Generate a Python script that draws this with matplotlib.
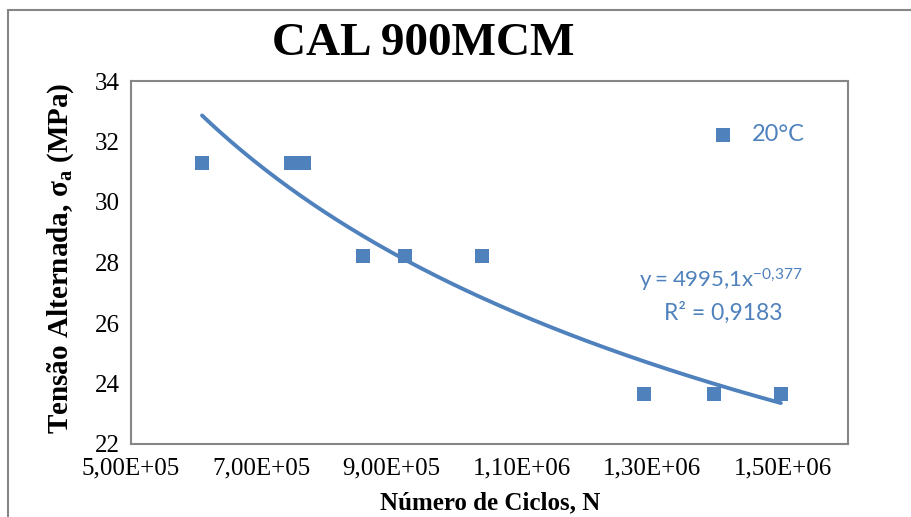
import matplotlib
matplotlib.use('Agg')
import matplotlib.pyplot as plt
from matplotlib.patches import Rectangle
from matplotlib.ticker import FuncFormatter
import numpy as np

# data
ciclos = [6.09e5, 7.45e5, 7.65e5, 8.56e5, 9.20e5, 1.038e6, 1.287e6, 1.394e6, 1.497e6]
tensao = [31.3, 31.3, 31.3, 28.2, 28.2, 28.2, 23.65, 23.65, 23.65]
serie = '20°C'
titulo = 'CAL 900MCM'
eq_texto = r'$\mathregular{y = 4995{,}1x^{-0{,}377}}$'
r2_texto = 'R² = 0,9183'
x_ticks = [5e5, 7e5, 9e5, 1.1e6, 1.3e6, 1.5e6]
y_ticks = [22, 24, 26, 28, 30, 32, 34]

azul = '#4F81BD'
cinza = '#868686'
serif = 'Liberation Serif'

fig = plt.figure(figsize=(9.12, 5.17), dpi=100)
ax = fig.add_axes([131 / 912, 1 - 444 / 517, 717 / 912, 363 / 517])

# power trendline fitted on the data (log-log least squares)
b, log_a = np.polyfit(np.log(ciclos), np.log(tensao), 1)
xs = np.linspace(min(ciclos), max(ciclos), 200)
ax.plot(xs, np.exp(log_a) * xs ** b, color=azul, lw=2.8, solid_capstyle='round', zorder=2)

pts = ax.scatter(ciclos, tensao, marker='s', s=105, color=azul, linewidths=0, zorder=3)

ax.set_xlim(5e5, 1.6e6)
ax.set_ylim(22, 34)
ax.set_xticks(x_ticks)
ax.set_yticks(y_ticks)

def fmt_sci(v, pos):
    s = '%.2E' % v
    return s.replace('.', ',')

ax.xaxis.set_major_formatter(FuncFormatter(fmt_sci))
ax.tick_params(length=0, pad=10)
for lab in ax.get_xticklabels():
    lab.set_fontfamily(serif)
    lab.set_fontsize(18)
for lab in ax.get_yticklabels():
    lab.set_fontfamily(serif)
    lab.set_fontsize(18)
ax.tick_params(axis='y', pad=8)

for sp in ax.spines.values():
    sp.set_color(cinza)
    sp.set_linewidth(1.5)

fig.text(0.464, 1 - 44 / 517, titulo, ha='center', va='center',
         fontfamily=serif, fontweight='bold', fontsize=34)
fig.text(490 / 912, 1 - 503 / 517, 'Número de Ciclos, N', ha='center', va='center',
         fontfamily=serif, fontweight='bold', fontsize=18)
fig.text(61 / 912, 1 - 258 / 517, r'Tensão Alternada, $\mathregular{σ_a}$ (MPa)',
         ha='center', va='center', rotation=90,
         fontfamily=serif, fontweight='bold', fontsize=21)

fig.text(721 / 912, 1 - 280 / 517, eq_texto, ha='center', va='center',
         color=azul, fontfamily='Lato', fontsize=16)
fig.text(723 / 912, 1 - 313 / 517, r2_texto, ha='center', va='center',
         color=azul, fontfamily='Lato', fontsize=16.5)

leg = ax.legend([pts], [serie], loc='center left',
                bbox_to_anchor=(714 / 912, 1 - 135 / 517), bbox_transform=fig.transFigure,
                frameon=False, handletextpad=0.8, borderpad=0, borderaxespad=0,
                handlelength=0.8, prop={'family': 'Lato', 'size': 17})
for t in leg.get_texts():
    t.set_color(azul)

# outer chart border
fig.patches.append(Rectangle((8 / 912, -0.1), 1.1, 1 - 10 / 517 + 0.1,
                             transform=fig.transFigure, fill=False,
                             edgecolor=cinza, lw=1.5))

fig.savefig('out.png', dpi=100)
